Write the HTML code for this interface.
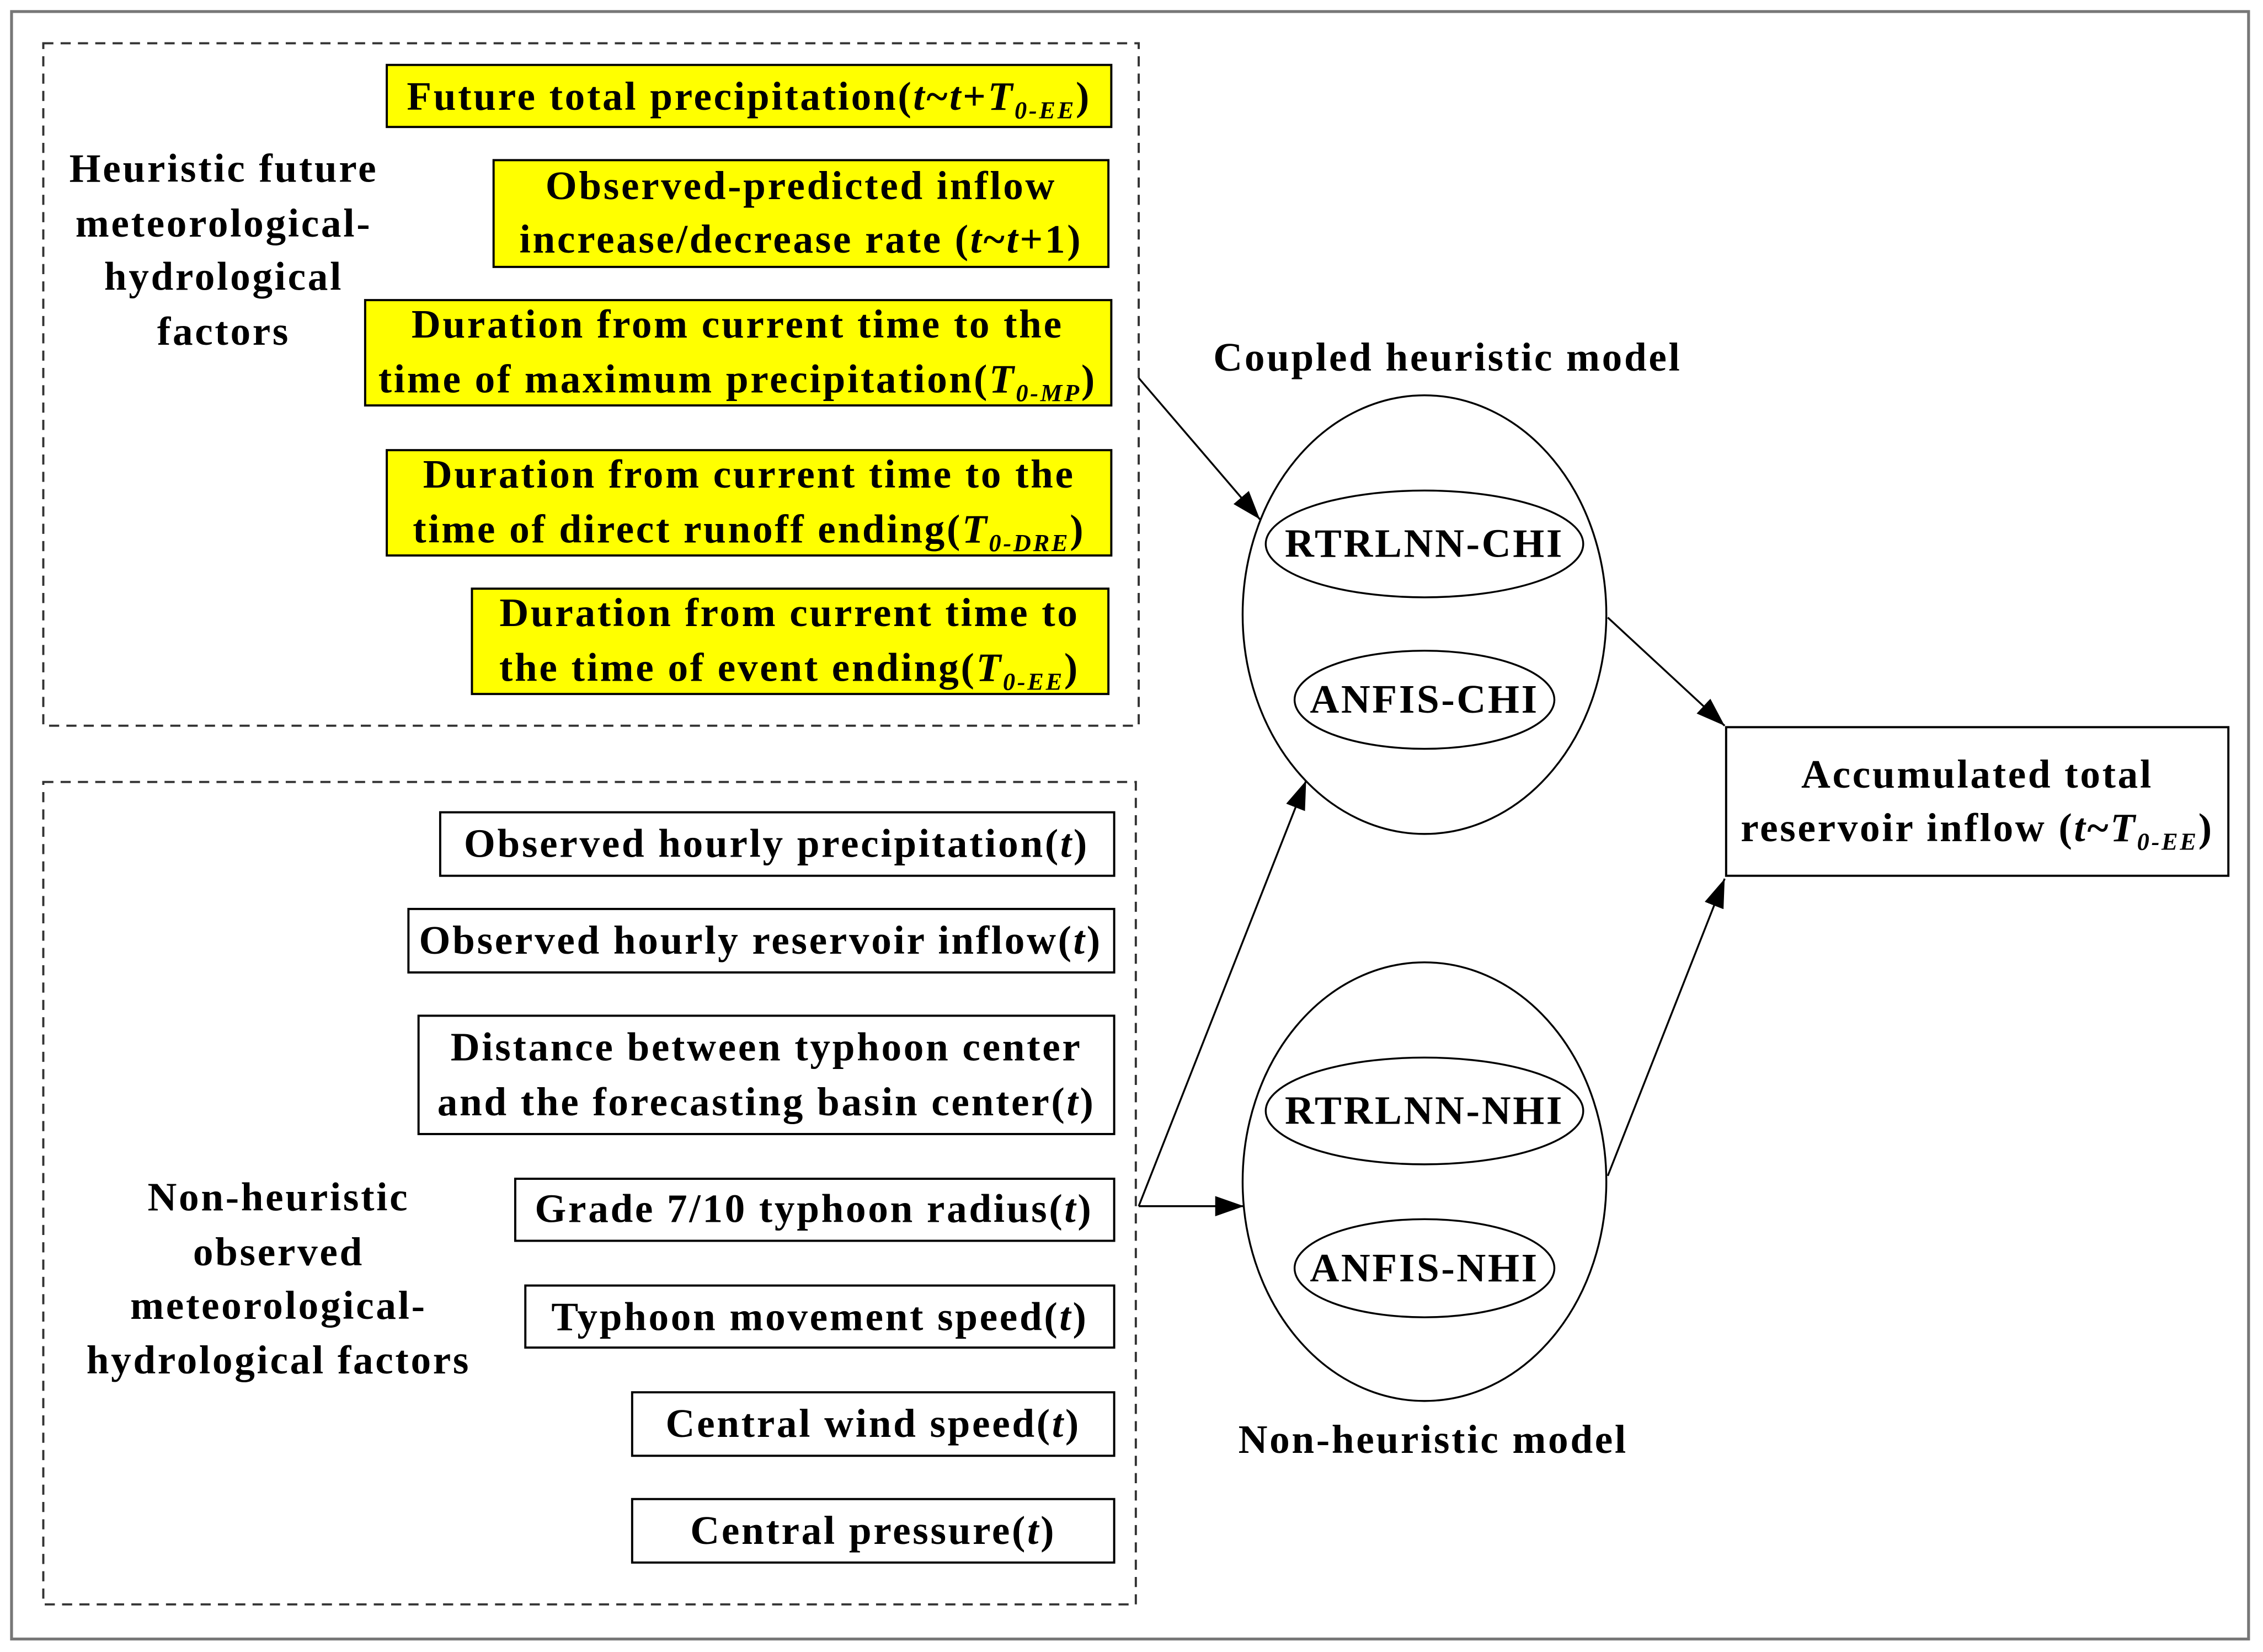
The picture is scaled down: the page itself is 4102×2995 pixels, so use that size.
<!DOCTYPE html>
<html><head><meta charset="utf-8"><style>
html,body{margin:0;padding:0;background:#fff;}
svg{display:block;}
text{font-family:"Liberation Serif",serif;font-weight:bold;font-size:28px;letter-spacing:1.4px;fill:#000;}
</style></head><body>
<svg width="4102" height="2995" viewBox="0 0 1568 1145" preserveAspectRatio="none" xmlns="http://www.w3.org/2000/svg">
<defs>
<marker id="b" markerWidth="20" markerHeight="14" refX="20" refY="7" orient="auto" markerUnits="userSpaceOnUse" viewBox="0 0 20 14"><path d="M0,0 L20,7 L0,14 z" fill="#000"/></marker></defs>
<rect x="8" y="8" width="1550" height="1128" fill="none" stroke="#777" stroke-width="2"/>
<rect x="30" y="30" width="759" height="473" fill="none" stroke="#333" stroke-width="1.5" stroke-dasharray="7,5"/>
<rect x="30" y="542" width="757" height="570" fill="none" stroke="#333" stroke-width="1.5" stroke-dasharray="7,5"/>
<g fill="#ffff00" stroke="#000" stroke-width="1.5">
<rect x="268" y="45" width="502" height="43"/>
<rect x="342" y="111" width="426" height="74"/>
<rect x="253" y="208" width="517" height="73"/>
<rect x="268" y="312" width="502" height="73"/>
<rect x="327" y="408" width="441" height="73"/>
</g>
<g fill="#fff" stroke="#000" stroke-width="1.5">
<rect x="305" y="563" width="467" height="44"/>
<rect x="283" y="630" width="489" height="44"/>
<rect x="290" y="704" width="482" height="82"/>
<rect x="357" y="817" width="415" height="43"/>
<rect x="364" y="891" width="408" height="43"/>
<rect x="438" y="965" width="334" height="44"/>
<rect x="438" y="1039" width="334" height="44"/>
<rect x="1196" y="504" width="348" height="103"/>
</g>
<g text-anchor="middle">
<text x="519" y="76">Future total precipitation(<tspan font-style="italic">t</tspan>~<tspan font-style="italic">t</tspan>+<tspan font-style="italic">T</tspan><tspan font-style="italic" font-size="17" dy="6">0-EE</tspan><tspan dy="-6">)</tspan></text>
<text x="555" y="138">Observed-predicted inflow</text>
<text x="555" y="175">increase/decrease rate (<tspan font-style="italic">t</tspan>~<tspan font-style="italic">t</tspan>+1)</text>
<text x="511" y="234">Duration from current time to the</text>
<text x="511" y="272">time of maximum precipitation(<tspan font-style="italic">T</tspan><tspan font-style="italic" font-size="17" dy="6">0-MP</tspan><tspan dy="-6">)</tspan></text>
<text x="519" y="338">Duration from current time to the</text>
<text x="519" y="376">time of direct runoff ending(<tspan font-style="italic">T</tspan><tspan font-style="italic" font-size="17" dy="6">0-DRE</tspan><tspan dy="-6">)</tspan></text>
<text x="547" y="434">Duration from current time to</text>
<text x="547" y="472">the time of event ending(<tspan font-style="italic">T</tspan><tspan font-style="italic" font-size="17" dy="6">0-EE</tspan><tspan dy="-6">)</tspan></text>
<text x="155" y="126">Heuristic future</text>
<text x="155" y="164">meteorological-</text>
<text x="155" y="201">hydrological</text>
<text x="155" y="239">factors</text>
<text x="538" y="594">Observed hourly precipitation(<tspan font-style="italic">t</tspan>)</text>
<text x="527" y="661">Observed hourly reservoir inflow(<tspan font-style="italic">t</tspan>)</text>
<text x="531" y="735">Distance between typhoon center</text>
<text x="531" y="773">and the forecasting basin center(<tspan font-style="italic">t</tspan>)</text>
<text x="564" y="847">Grade 7/10 typhoon radius(<tspan font-style="italic">t</tspan>)</text>
<text x="568" y="922">Typhoon movement speed(<tspan font-style="italic">t</tspan>)</text>
<text x="605" y="996">Central wind speed(<tspan font-style="italic">t</tspan>)</text>
<text x="605" y="1070">Central pressure(<tspan font-style="italic">t</tspan>)</text>
<text x="193" y="839">Non-heuristic</text>
<text x="193" y="877">observed</text>
<text x="193" y="914">meteorological-</text>
<text x="193" y="952">hydrological factors</text>
<text x="1003" y="257">Coupled heuristic model</text>
<text x="993" y="1007">Non-heuristic model</text>
<text x="1370" y="546">Accumulated total</text>
<text x="1370" y="583">reservoir inflow (<tspan font-style="italic">t</tspan>~<tspan font-style="italic">T</tspan><tspan font-style="italic" font-size="17" dy="6">0-EE</tspan><tspan dy="-6">)</tspan></text>
</g>
<g fill="none" stroke="#000" stroke-width="1.3">
<ellipse cx="987" cy="426" rx="126" ry="152"/>
<ellipse cx="987" cy="377" rx="110" ry="37"/>
<ellipse cx="987" cy="485" rx="90" ry="34"/>
<ellipse cx="987" cy="819" rx="126" ry="152"/>
<ellipse cx="987" cy="770" rx="110" ry="37"/>
<ellipse cx="987" cy="879" rx="90" ry="34"/>
</g>
<g text-anchor="middle">
<text x="987" y="386">RTRLNN-CHI</text>
<text x="987" y="494">ANFIS-CHI</text>
<text x="987" y="779">RTRLNN-NHI</text>
<text x="987" y="888">ANFIS-NHI</text>
</g>
<g stroke="#000" stroke-width="1.3" marker-end="url(#b)">
<line x1="789" y1="262" x2="873" y2="360"/>
<line x1="1114" y1="428" x2="1195" y2="503"/>
<line x1="789" y1="836" x2="862" y2="836"/>
<line x1="789" y1="836" x2="905" y2="541"/>
<line x1="1114" y1="815" x2="1195" y2="609"/>
</g>
</svg>
</body></html>
